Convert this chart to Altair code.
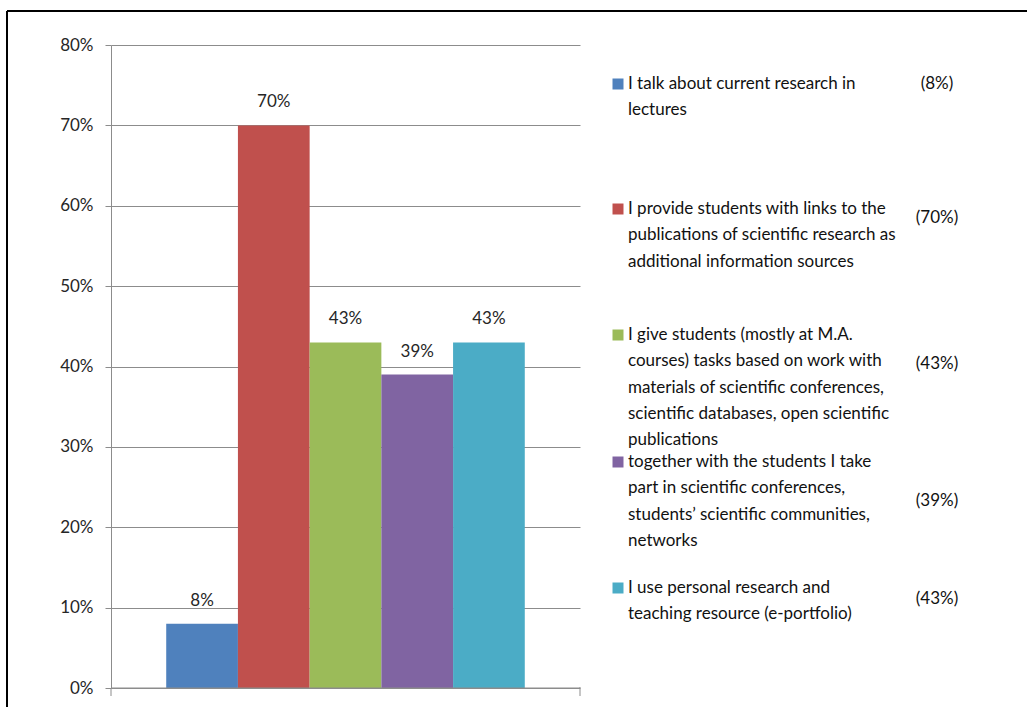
import altair as alt
import pandas as pd

# ---- data ----
series = ["s1", "s2", "s3", "s4", "s5"]
values = [0.08, 0.70, 0.43, 0.39, 0.43]
bar_labels = ["8%", "70%", "43%", "39%", "43%"]
colors = ["#4F81BD", "#C0504D", "#9BBB59", "#8064A2", "#4BACC6"]
legend_lines = [
    ["I talk about current research in", "lectures"],
    ["I provide students with links to the", "publications of scientific research as",
     "additional information sources"],
    ["I give students (mostly at M.A.", "courses) tasks based on work with",
     "materials of scientific conferences,", "scientific databases, open scientific",
     "publications"],
    ["together with the students I take", "part in scientific conferences,",
     "students’ scientific communities,", "networks"],
    ["I use personal research and", "teaching resource (e-portfolio)"],
]
legend_pct = ["(8%)", "(70%)", "(43%)", "(39%)", "(43%)"]
y_ticks = [0, 0.1, 0.2, 0.3, 0.4, 0.5, 0.6, 0.7, 0.8]

# ---- layout ----
W, H = 469, 643
PL, PT = 111, 45
FONT = "Lato"
item_top = [84, 209, 335, 462, 588]     # absolute y of first line centre
pct_y = [84, 218, 364, 501, 599]
line_h = 26.3
text_x = 628 - PL
sq_x = 618 - PL
pct_x = 937 - PL

df = pd.DataFrame({"series": series, "value": values, "label": bar_labels})

rows = []
for i, lines in enumerate(legend_lines):
    for j, t in enumerate(lines):
        rows.append({"t": t, "px": text_x, "py": item_top[i] - PT + j * line_h})
leg_text = pd.DataFrame(rows)
leg_sq = pd.DataFrame({"series": series, "px": [sq_x] * 5,
                       "py": [y - PT for y in item_top]})
leg_pct = pd.DataFrame({"t": legend_pct, "px": [pct_x] * 5,
                        "py": [y - PT for y in pct_y]})

color_scale = alt.Scale(domain=series, range=colors)
x_enc = alt.X("series:N", scale=alt.Scale(paddingInner=0, paddingOuter=0.77),
              axis=None, sort=series)
y_enc = alt.Y("value:Q", scale=alt.Scale(domain=[0, 0.8], nice=False),
              axis=alt.Axis(values=y_ticks, format=".0%", title=None,
                            grid=True, gridColor="#8c8c8c", gridWidth=1,
                            domainColor="#8c8c8c", tickColor="#8c8c8c",
                            tickSize=6, labelPadding=12, labelFont=FONT,
                            labelFontSize=17, labelColor="#262626"))

bars = alt.Chart(df).mark_bar().encode(
    x=x_enc, y=y_enc,
    color=alt.Color("series:N", scale=color_scale, legend=None))

labels = alt.Chart(df).mark_text(baseline="middle", dy=-23, font=FONT,
                                 fontSize=17, color="#262626").encode(
    x=x_enc, y=alt.Y("value:Q"), text="label:N")

sq = alt.Chart(leg_sq).mark_square(size=121, opacity=1).encode(
    x=alt.X("px:Q", scale=None), y=alt.Y("py:Q", scale=None),
    color=alt.Color("series:N", scale=color_scale, legend=None))

ltext = alt.Chart(leg_text).mark_text(align="left", baseline="middle", font=FONT,
                                      fontSize=17, color="#111111").encode(
    x=alt.X("px:Q", scale=None), y=alt.Y("py:Q", scale=None), text="t:N")

ptext = alt.Chart(leg_pct).mark_text(align="center", baseline="middle", font=FONT,
                                     fontSize=17, color="#111111").encode(
    x=alt.X("px:Q", scale=None), y=alt.Y("py:Q", scale=None), text="t:N")

# axis extensions below baseline
ext = alt.Chart(pd.DataFrame({"a": [0]})).mark_rule(color="#8c8c8c").encode(
    x=alt.value(0), y=alt.value(H), y2=alt.value(H + 8))
ext2 = alt.Chart(pd.DataFrame({"a": [0]})).mark_rule(color="#8c8c8c").encode(
    x=alt.value(W), y=alt.value(H - 1), y2=alt.value(H + 8))
base_line = alt.Chart(pd.DataFrame({"a": [0]})).mark_rule(color="#8c8c8c").encode(
    x=alt.value(0), x2=alt.value(W), y=alt.value(H))

# frame
frame_top = alt.Chart(pd.DataFrame({"a": [0]})).mark_rule(color="black", strokeWidth=2).encode(
    x=alt.value(7 - PL), x2=alt.value(1027 - PL), y=alt.value(11 - PT))
frame_left = alt.Chart(pd.DataFrame({"a": [0]})).mark_rule(color="black", strokeWidth=2).encode(
    x=alt.value(7 - PL), y=alt.value(11 - PT), y2=alt.value(707 - PT))

chart = alt.layer(bars, labels, base_line, ext, ext2, sq, ltext, ptext,
                  frame_top, frame_left).properties(
    width=W, height=H,
    autosize=alt.AutoSizeParams(type="none"),
    padding={"left": PL, "top": PT, "right": 1027 - PL - W, "bottom": 707 - PT - H},
).configure_view(stroke=None)

chart.save("out.html", embed_options={"renderer": "svg", "actions": False})
